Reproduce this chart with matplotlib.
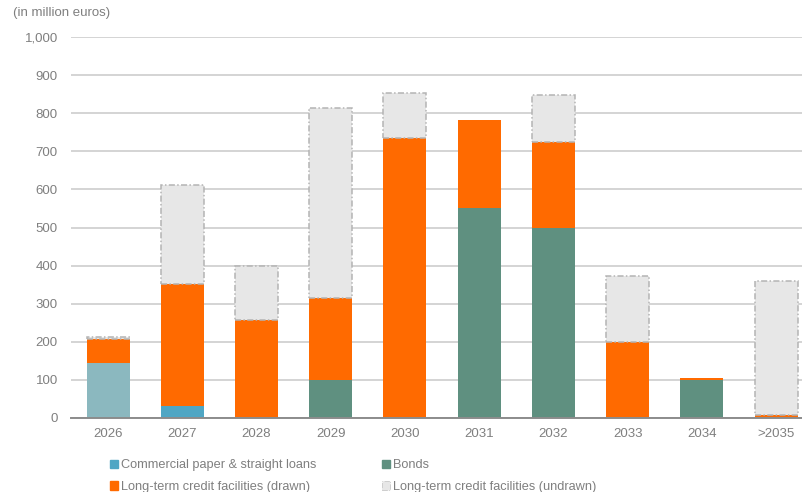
import numpy as np
import matplotlib
matplotlib.use('Agg')
from matplotlib import pyplot as plt
from matplotlib.patches import Patch

# Maturity profile (in million euros)
years = ['2026', '2027', '2028', '2029', '2030', '2031', '2032', '2033', '2034', '>2035']
commercial_paper = [144, 32, 0, 0, 0, 0, 0, 0, 0, 0]
bonds = [0, 0, 0, 100, 0, 552, 500, 0, 100, 0]
drawn = [63, 319, 258, 214, 734, 230, 224, 200, 5, 9]
undrawn = [6, 261, 140, 499, 120, 0, 125, 173, 0, 350]

c_cp = '#4fa6c4'
c_cp_first = '#8bb8bf'
c_bonds = '#5f9080'
c_drawn = '#ff6a00'
c_undrawn = '#e7e7e7'
c_text = '#7f7f7f'

plt.rcParams['font.family'] = ['Liberation Sans', 'DejaVu Sans']

fig = plt.figure(figsize=(8.02, 4.92), dpi=100)
ax = fig.add_axes([71 / 802, 1 - 418 / 492, 1 - 71 / 802, (418 - 37) / 492])

x = np.arange(len(years))
w = 0.58
cp = np.array(commercial_paper)
bd = np.array(bonds)
dr = np.array(drawn)
ud = np.array(undrawn)

cp_colors = [c_cp_first] + [c_cp] * (len(years) - 1)
ax.bar(x, cp, w, color=cp_colors, zorder=3)
ax.bar(x, bd, w, bottom=cp, color=c_bonds, zorder=3)
ax.bar(x, dr, w, bottom=cp + bd, color=c_drawn, zorder=3)
has_ud = ud > 0
ax.bar(x[has_ud], ud[has_ud], w, bottom=(cp + bd + dr)[has_ud], color=c_undrawn,
       edgecolor='#b4b4b4', linestyle=(0, (4, 1.5, 1, 1.5)), linewidth=1.1, zorder=3)

ax.set_ylim(0, 1000)
ax.set_xlim(-0.5, 9.35)
ax.set_yticks(range(0, 1001, 100))
ax.set_yticklabels([f'{v:,}' for v in range(0, 1001, 100)])
ax.set_xticks(x)
ax.set_xticklabels(years)
ax.tick_params(axis='both', length=0, colors=c_text, labelsize=9.5)
ax.tick_params(axis='y', pad=9.5)
ax.tick_params(axis='x', pad=7)
ax.grid(axis='y', color='#d4d4d4', linewidth=1.4, zorder=0)
for s in ['top', 'right', 'left']:
    ax.spines[s].set_visible(False)
ax.spines['bottom'].set_color('#8c8c8c')
ax.spines['bottom'].set_linewidth(1.4)
ax.spines['bottom'].set_zorder(4)

fig.text(13 / 802, 1 - 13 / 492, '(in million euros)', color=c_text, fontsize=9.5,
         va='center', ha='left')

handles = [Patch(color=c_cp), Patch(color=c_drawn), Patch(color=c_bonds),
           Patch(facecolor=c_undrawn, edgecolor='#c8c8c8', linestyle='-.', linewidth=0.6)]
labels = ['Commercial paper & straight loans', 'Long-term credit facilities (drawn)',
          'Bonds', 'Long-term credit facilities (undrawn)']
leg = fig.legend(handles, labels, ncol=2, loc='upper left', bbox_to_anchor=(104 / 802, 1 - 453 / 492),
                 frameon=False, fontsize=9.2,
                 handlelength=0.6, handleheight=0.6,
                 handletextpad=0.2, columnspacing=5.2, labelspacing=0.75, borderpad=0)
for t in leg.get_texts():
    t.set_color(c_text)

fig.savefig('out.png', dpi=100)
